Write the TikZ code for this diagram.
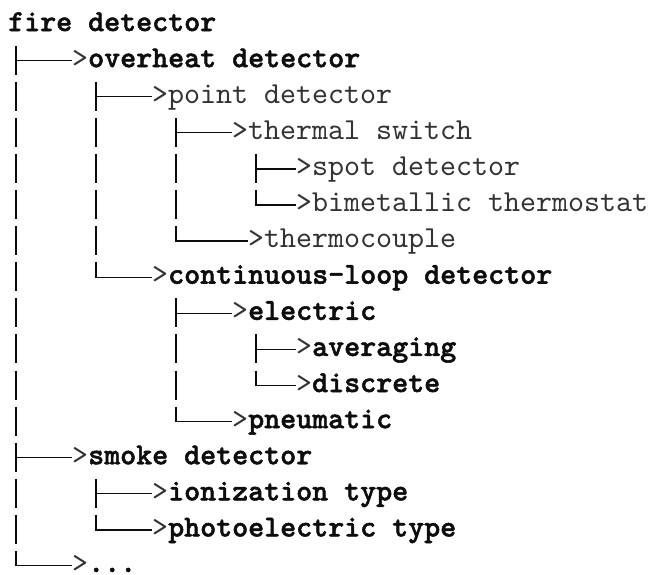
\documentclass[tikz,border=0pt]{standalone}
\usepackage{fontspec}
\newfontfamily\codefont{lmmono10-regular.otf}[BoldFont=lmmonolt10-bold.otf, BoldFeatures={FakeBold=1.6}]
\definecolor{lite}{gray}{0.2}
\definecolor{ink}{gray}{0.05}
\newcommand{\arr}{{\mdseries\color{lite}>}}
\newcommand{\lt}[1]{{\mdseries\color{lite}#1}}
\begin{document}
\begin{tikzpicture}[x=1pt,y=-1pt,
  lbl/.style={anchor=west, inner sep=0pt, text height=20pt, text depth=6.9pt,
    text=ink, font=\codefont\fontsize{30.48pt}{34pt}\selectfont},
  trunk/.style={line width=1.8pt, dash pattern=on 29pt off 7.1pt, draw=ink},
  branch/.style={line width=1.3pt, draw=ink}]
\useasboundingbox (0,0) rectangle (648,575);

\node[lbl] (fd) at (8,24.5)   {\textbf{fire detector}};
\node[lbl] (od) at (72,60.6)  {\arr\textbf{overheat detector}};
\node[lbl] (pd) at (152,96.7) {\lt{>point detector}};
\node[lbl] (ts) at (232,132.8) {\lt{>thermal switch}};
\node[lbl] (sp) at (296,168.9) {\lt{>spot detector}};
\node[lbl] (bt) at (296,205.0) {\lt{>bimetallic thermostat}};
\node[lbl] (tc) at (248,241.1) {\lt{>thermocouple}};
\node[lbl] (cl) at (152,277.2) {\arr\textbf{continuous-loop detector}};
\node[lbl] (el) at (232,313.3) {\arr\textbf{electric}};
\node[lbl] (av) at (296,349.4) {\arr\textbf{averaging}};
\node[lbl] (di) at (296,385.5) {\arr\textbf{discrete}};
\node[lbl] (pn) at (232,421.6) {\arr\textbf{pneumatic}};
\node[lbl] (sd) at (72,457.7)  {\arr\textbf{smoke detector}};
\node[lbl] (io) at (152,493.8) {\arr\textbf{ionization type}};
\node[lbl] (ph) at (152,529.9) {\arr\textbf{photoelectric type}};
\node[lbl] (et) at (72,565.5)  {\arr\textbf{...}};

% branch columns, relative to the parent nodes
\coordinate (c0) at ([xshift=8pt]fd.west);
\coordinate (cod) at ([xshift=24pt]od.west);
\coordinate (cpd) at ([xshift=24pt]pd.west);
\coordinate (cts) at ([xshift=24pt]ts.west);
\coordinate (ccl) at ([xshift=24pt]cl.west);
\coordinate (cel) at ([xshift=24pt]el.west);
\coordinate (csd) at ([xshift=24pt]sd.west);

% trunks
\draw[trunk] ([yshift=15pt]c0 |- od.west) -- (c0 |- et.west);
\draw[trunk] ([yshift=15pt]cod |- pd.west) -- (cod |- cl.west);
\draw[trunk] ([yshift=15pt]cpd |- ts.west) -- (cpd |- tc.west);
\draw[trunk] ([yshift=15pt]cts |- sp.west) -- (cts |- bt.west);
\draw[trunk] ([yshift=15pt]ccl |- el.west) -- (ccl |- pn.west);
\draw[trunk] ([yshift=15pt]cel |- av.west) -- (cel |- di.west);
\draw[trunk] ([yshift=15pt]csd |- io.west) -- (csd |- ph.west);

% branches
\foreach \p/\c in {c0/od, c0/sd, c0/et, cod/pd, cod/cl, cpd/ts, cpd/tc,
                   cts/sp, cts/bt, ccl/el, ccl/pn, cel/av, cel/di, csd/io, csd/ph}
  \draw[branch] ([xshift=-0.9pt]\p |- \c.west) -- (\c.west);
\end{tikzpicture}
\end{document}
